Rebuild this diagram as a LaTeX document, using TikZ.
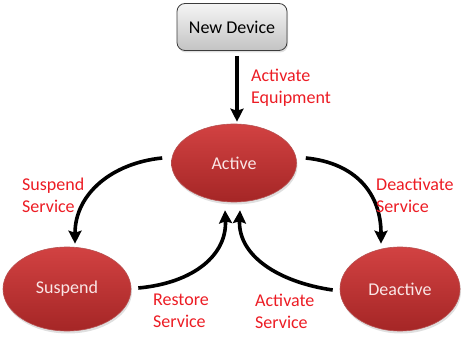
\documentclass[tikz,border=0pt]{standalone}
\usepackage{fontspec}
\setmainfont{Carlito}
\usetikzlibrary{arrows.meta,shadows,shapes.geometric}
\definecolor{lblred}{RGB}{236,28,36}
\definecolor{redtop}{RGB}{210,66,66}
\definecolor{redbot}{RGB}{165,38,38}
\definecolor{graytop}{RGB}{245,245,245}
\definecolor{graybot}{RGB}{195,195,195}
\tikzset{
  statenode/.style={ellipse, minimum width=#1, minimum height=84pt, inner sep=0pt,
    top color=redtop, bottom color=redbot, draw=redbot!80!white, line width=0.6pt,
    drop shadow={opacity=0.25, shadow xshift=1pt, shadow yshift=-2.5pt},
    text={rgb,255:red,250;green,230;blue,230}, font=\fontsize{18}{22}\selectfont},
  devbox/.style={rectangle, rounded corners=8pt, minimum width=110pt, minimum height=47pt,
    top color=graytop, bottom color=graybot, draw={rgb,255:red,60;green,60;blue,60}, line width=0.8pt,
    drop shadow={opacity=0.25, shadow xshift=1pt, shadow yshift=-2pt},
    font=\fontsize{18}{22}\selectfont},
  conn/.style={line width=3.6pt, -{Stealth[length=13pt,width=13pt,inset=2pt]}},
  lbl/.style={anchor=west, inner sep=0pt, align=left, text=lblred,
    font=\fontsize{18}{22}\selectfont},
}
\begin{document}
\begin{tikzpicture}[x=1pt,y=-1pt]
\useasboundingbox (0,0) rectangle (470,344);
\node[devbox] (nd) at (232,27) {New Device};
\node[statenode=125pt, minimum height=78pt] (act) at (234,163) {Active};
\node[statenode=128pt] (sus) at (67,289) {Suspend};
\node[statenode=120pt] (dea) at (400,289) {Deactive};

\draw[conn] ([shift={(5,5)}]nd.south) -- ([shift={(3,-2)}]act.north);
\draw[conn] ([shift={(-9,-5)}]act.west) .. controls +(-50,5) and +(0,-50) .. ([shift={(8,-3)}]sus.north);
\draw[conn] ([shift={(9,-5)}]act.east) .. controls +(50,5) and +(0,-50) .. ([shift={(-19,-3)}]dea.north);
\draw[conn] ([shift={(7,-1)}]sus.east) .. controls +(55,-5) and +(2,45) .. ([shift={(-9,8)}]act.south);
\draw[conn] ([shift={(-7,1)}]dea.west) .. controls +(-55,-8) and +(-2,45) .. ([shift={(6,8)}]act.south);

\node[lbl] (l1) at (251,88) {Activate\\Equipment};
\node[lbl] (l2) at (22,195) {Suspend\\Service};
\node[lbl] (l3) at (376,195) {Deactivate\\Service};
\node[lbl] (l4) at (153,311) {Restore\\Service};
\node[lbl] (l5) at (255,311) {Activate\\Service};
\end{tikzpicture}
\end{document}
